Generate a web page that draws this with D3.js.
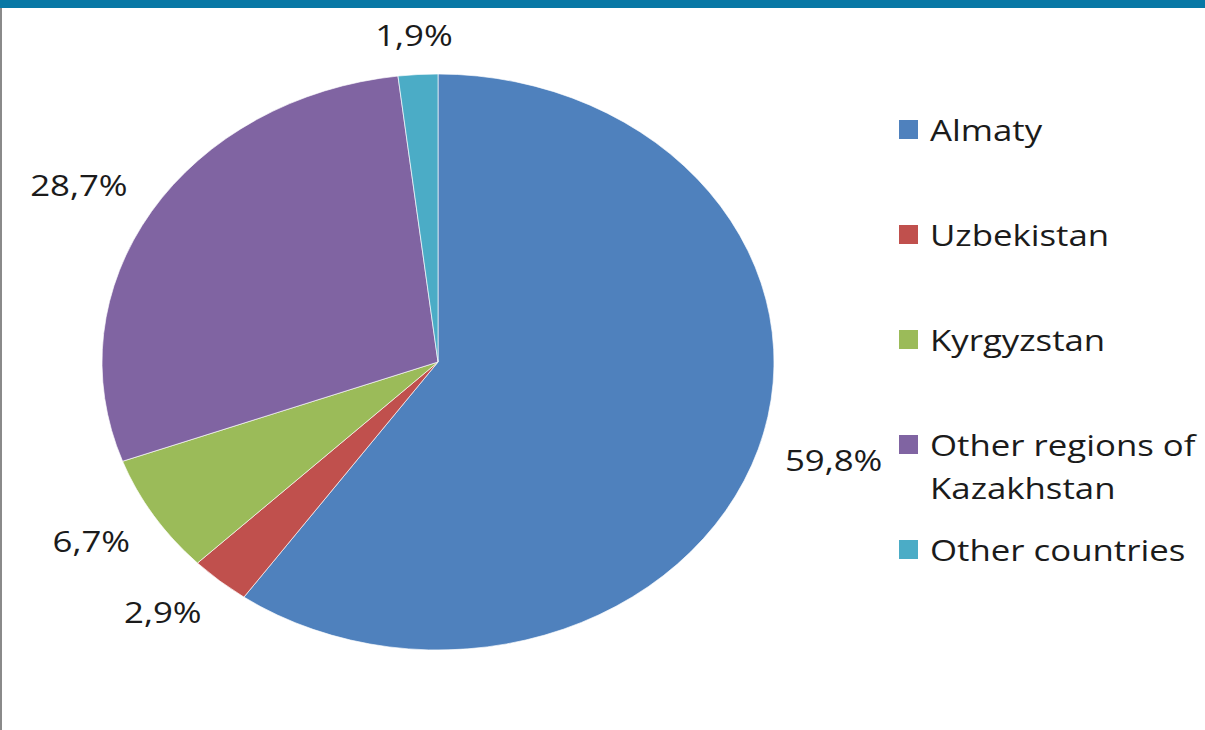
<!DOCTYPE html>
<html>
<head>
<meta charset="utf-8">
<script src="https://cdn.jsdelivr.net/npm/d3@7"></script>
<style>
  html, body { margin: 0; padding: 0; background: #fff; }
  svg { display: block; }
  text { font-family: "Open Sans", sans-serif; fill: #1b1b1b; }
</style>
</head>
<body>
<div id="chart"></div>
<script>
// data
var categories = ["Almaty", "Uzbekistan", "Kyrgyzstan", "Other regions of Kazakhstan", "Other countries"];
var shares = [59.8, 2.9, 6.7, 28.7, 1.9];
var labels = ["59,8%", "2,9%", "6,7%", "28,7%", "1,9%"];
var legendLines = [["Almaty"], ["Uzbekistan"], ["Kyrgyzstan"], ["Other regions of", "Kazakhstan"], ["Other countries"]];
var colors = ["#4f81bd", "#c0504d", "#9bbb59", "#8064a2", "#4bacc6"];

var width = 1205, height = 730;
var cx = 438, cy = 362, r = 288;
var stretch = 336 / 288; // the picture is squashed wider than tall
var txtScale = 1.2;      // text is stretched the same way
var fontSize = 29;

var svg = d3.select("#chart").append("svg")
  .attr("width", width).attr("height", height);

// frame: top bar and left rule
svg.append("rect").attr("x", 0).attr("y", 0).attr("width", width).attr("height", 8).attr("fill", "#0878a5");
svg.append("rect").attr("x", 0).attr("y", 8).attr("width", 2).attr("height", height - 8).attr("fill", "#8a8a8a");

var pie = d3.pie().sort(null).value(function(d){ return d; });
var arcs = pie(shares);
var arc = d3.arc().innerRadius(0).outerRadius(r);

var g = svg.append("g")
  .attr("transform", "translate(" + cx + "," + cy + ") scale(" + stretch + ",1)");
g.selectAll("path").data(arcs).enter().append("path")
  .attr("d", arc)
  .attr("fill", function(d, i){ return colors[i]; })
  .attr("stroke", "#fff").attr("stroke-width", 0.6);

// data labels: nearest corner of the label box sits a little outside the rim
var gap = 28, capH = 22;
var lab = svg.append("g");
arcs.forEach(function(d, i){
  var a = (d.startAngle + d.endAngle) / 2;
  var sx = Math.sin(a), sy = -Math.cos(a);
  var px = cx + sx * r * stretch + sx * gap;
  var py = cy + sy * r + sy * gap;
  var t = lab.append("text")
    .attr("font-size", fontSize)
    .attr("text-anchor", "middle")
    .attr("dy", "0.35em")
    .text(labels[i]);
  var w = t.node().getBBox().width * txtScale;
  var ox = Math.abs(sx) > 0.35 ? Math.sign(sx) * w / 2 : sx * w / 2;
  var oy = Math.abs(sy) > 0.35 ? Math.sign(sy) * capH / 2 : sy * capH / 2;
  t.attr("transform", "translate(" + (px + ox) + "," + (py + oy) + ") scale(" + txtScale + ",1)");
});

// legend
var legY = d3.scalePoint().domain(d3.range(categories.length)).range([130, 550]);
var leg = svg.append("g");
categories.forEach(function(c, i){
  var y = legY(i);
  leg.append("rect").attr("x", 899).attr("y", y - 10).attr("width", 19).attr("height", 19)
    .attr("fill", colors[i]);
  legendLines[i].forEach(function(line, j){
    leg.append("text")
      .attr("transform", "translate(930," + (y + 11 + j * 43) + ") scale(" + txtScale + ",1)")
      .attr("font-size", fontSize)
      .text(line);
  });
});
</script>
</body>
</html>
